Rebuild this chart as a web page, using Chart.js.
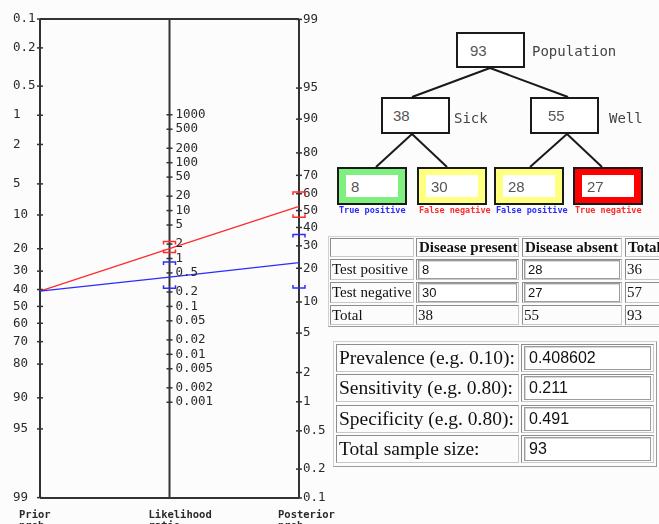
<!DOCTYPE html>
<html>
<head>
<meta charset="utf-8">
<script src="https://cdn.jsdelivr.net/npm/chart.js@4.4.1/dist/chart.umd.min.js"></script>
<style>
  html, body { margin: 0; padding: 0; }
  body { width: 659px; height: 524px; overflow: hidden; background: #fcfcfc; position: relative; }
  #nomo { position: absolute; left: 0; top: 0; width: 345px; height: 524px; }
  .abs { position: absolute; box-sizing: border-box; }
  .box { border: 2px solid #1a1a1a; background: #fff; display: flex; align-items: center;
         font: 15px "Liberation Sans", Arial, sans-serif; color: #555; }
  .leaf { border: 2px solid #1a1a1a; padding: 6px 7px; }
  .leaf > div { background: #fff; height: 100%; display: flex; align-items: center; padding-left: 5px;
                font: 15px "Liberation Sans", Arial, sans-serif; color: #555; }
  .tag { font: 14px "DejaVu Sans Mono", monospace; color: #444; line-height: 14px; }
  .cap { font: bold 8.5px "DejaVu Sans Mono", monospace; line-height: 9px; white-space: nowrap; }
  .tbl { border: 1px solid #9a9a9a; border-top-color: #d0d0d0; border-left-color: #d0d0d0; }
  .cell { border: 1px solid #c8c8c8; border-top-color: #8c8c8c; border-left-color: #8c8c8c;
          display: flex; align-items: center; padding-left: 1px; white-space: nowrap; overflow: hidden;
          font-family: "Liberation Serif", "Times New Roman", serif; color: #111; }
  .inp { border: 1px solid #9c9c9c; box-shadow: inset 1px 1px 0 #d8d8d8; background: #fff;
         display: flex; align-items: center; white-space: nowrap; overflow: hidden;
         font-family: "Liberation Sans", Arial, sans-serif; color: #111; }
</style>
</head>
<body>
<div id="nomo"><canvas id="nomogram"></canvas></div>
<svg id="links" class="abs" width="659" height="524" style="left:0;top:0"></svg>
<div id="right"></div>
<script>
// nomogram scales
const priorTicks = [0.1, 0.2, 0.5, 1, 2, 5, 10, 20, 30, 40, 50, 60, 70, 80, 90, 95, 99];
const lrTicks = [1000, 500, 200, 100, 50, 20, 10, 5, 2, 1, 0.5, 0.2, 0.1, 0.05, 0.02, 0.01, 0.005, 0.002, 0.001];
const postTicks = [99, 95, 90, 80, 70, 60, 50, 40, 30, 20, 10, 5, 2, 1, 0.5, 0.2, 0.1];

// test results (positive = blue, negative = red)
const priorPct = 40.8602;
const lrValues = [0.41, 1.61];
const postValues = [22.3, 52.6];
const lrCI = [[0.24, 0.85], [1.34, 2.27]];
const postCI = [[13.5, 36], [46, 61]];
const lineColors = ['#2b2bff', '#ff2b2b'];

// tree + tables
const population = 93;
const groupNames = ['Sick', 'Well'];
const groupTotals = [38, 55];
const cellNames = ['True positive', 'False negative', 'False positive', 'True negative'];
const cellCounts = [8, 30, 28, 27];
const rowNames = ['Test positive', 'Test negative', 'Total'];
const colNames = ['Disease present', 'Disease absent', 'Total'];
const diseasePresent = [8, 30, 38];
const diseaseAbsent = [28, 27, 55];
const rowTotals = [36, 57, 93];
const paramNames = ['Prevalence (e.g. 0.10):', 'Sensitivity (e.g. 0.80):', 'Specificity (e.g. 0.80):', 'Total sample size:'];
const paramValues = ['0.408602', '0.211', '0.491', '93'];

// ---------- nomogram ----------
const K = Math.LN10 / 2;
const logit = p => Math.log(p / (1 - p));
const priorPos = pct => -logit(pct / 100) - K;
const lrPos = lr => Math.log(lr) / 2;
const postPos = pct => logit(pct / 100) + K;
const EDGE = priorPos(0.1);
const ink = '#333';

function segment(points, color, width) {
  return { type: 'line', data: points, borderColor: color, borderWidth: width,
           pointRadius: 0, clip: false, order: 2 };
}
function tickSet(x, values, pos) {
  return { type: 'scatter', data: values.map(v => ({ x, y: pos(v) })), pointStyle: 'line',
           pointRadius: 3, borderColor: ink, borderWidth: 1.5, clip: false, order: 1 };
}

const datasets = [
  segment([{ x: 0, y: -EDGE }, { x: 0, y: EDGE }], ink, 2),
  segment([{ x: 1, y: -EDGE }, { x: 1, y: EDGE }], ink, 2),
  segment([{ x: 2, y: -EDGE }, { x: 2, y: EDGE }], ink, 2),
  segment([{ x: 0, y: EDGE }, { x: 2, y: EDGE }], ink, 2),
  segment([{ x: 0, y: -EDGE }, { x: 2, y: -EDGE }], ink, 2),
  tickSet(0, priorTicks, priorPos),
  tickSet(1, lrTicks, lrPos),
  tickSet(2, postTicks, postPos)
];
lrValues.forEach((lr, i) => {
  datasets.push(Object.assign(segment([
    { x: 0, y: priorPos(priorPct) }, { x: 1, y: lrPos(lr) }, { x: 2, y: postPos(postValues[i]) }
  ], lineColors[i], 1.3), { order: 0 }));
});

const nomogramText = {
  id: 'nomogramText',
  afterDatasetsDraw(chart) {
    const { ctx, scales: { x, y } } = chart;
    const xl = x.getPixelForValue(0), xm = x.getPixelForValue(1), xr = x.getPixelForValue(2);
    ctx.save();
    ctx.fillStyle = '#2a2a2a';
    ctx.font = '12.5px "DejaVu Sans Mono", monospace';
    ctx.textAlign = 'left';
    ctx.textBaseline = 'middle';
    priorTicks.forEach(v => ctx.fillText(String(v), xl - 27, y.getPixelForValue(priorPos(v))));
    lrTicks.forEach(v => ctx.fillText(String(v), xm + 6, y.getPixelForValue(lrPos(v))));
    postTicks.forEach(v => ctx.fillText(String(v), xr + 4, y.getPixelForValue(postPos(v))));

    ctx.font = 'bold 10.5px "DejaVu Sans Mono", monospace';
    ctx.textBaseline = 'alphabetic';
    [['Prior', 'prob.', xl], ['Likelihood', 'ratio', xm], ['Posterior', 'prob.', xr]].forEach(t => {
      ctx.fillText(t[0], t[2] - 21, 518);
      ctx.fillText(t[1], t[2] - 21, 529);
    });

    // confidence interval brackets
    const bracket = (px, py, dir, color) => {
      ctx.strokeStyle = color;
      ctx.lineWidth = 1.5;
      ctx.beginPath();
      ctx.moveTo(px - 6, py + dir * 3);
      ctx.lineTo(px - 6, py);
      ctx.lineTo(px + 6, py);
      ctx.lineTo(px + 6, py + dir * 3);
      ctx.stroke();
    };
    lrCI.forEach((ci, i) => {
      bracket(xm, y.getPixelForValue(lrPos(ci[0])), -1, lineColors[i]);
      bracket(xm, y.getPixelForValue(lrPos(ci[1])), 1, lineColors[i]);
    });
    postCI.forEach((ci, i) => {
      bracket(xr, y.getPixelForValue(postPos(ci[0])), -1, lineColors[i]);
      bracket(xr, y.getPixelForValue(postPos(ci[1])), 1, lineColors[i]);
    });
    ctx.restore();
  }
};

new Chart(document.getElementById('nomogram'), {
  type: 'scatter',
  data: { datasets },
  options: {
    responsive: true,
    maintainAspectRatio: false,
    animation: false,
    events: [],
    layout: { padding: { left: 40, right: 46, top: 19, bottom: 26 } },
    plugins: { legend: { display: false }, tooltip: { enabled: false } },
    scales: {
      x: { type: 'linear', min: 0, max: 2, display: false },
      y: { type: 'linear', min: -EDGE, max: EDGE, display: false }
    }
  },
  plugins: [nomogramText]
});

// ---------- tree ----------
const right = document.getElementById('right');
function el(cls, style, html) {
  const d = document.createElement('div');
  d.className = 'abs ' + cls;
  d.setAttribute('style', style);
  if (html !== undefined) d.innerHTML = html;
  right.appendChild(d);
  return d;
}

el('box', 'left:456px;top:32px;width:69px;height:36px;padding-left:12px', population);
el('tag', 'left:532px;top:44px', 'Population');
const groupBoxes = [[381, 10], [530, 16]];
groupTotals.forEach((n, i) => {
  el('box', `left:${groupBoxes[i][0]}px;top:97px;width:69px;height:37px;padding-left:${groupBoxes[i][1]}px`, n);
  el('tag', `left:${groupBoxes[i][0] + 73 + (i ? 6 : 0)}px;top:111px`, groupNames[i]);
});
const leafLeft = [337, 417, 494, 573];
const leafColor = ['#7ff07f', '#ffff80', '#ffff80', '#ff0000'];
const capColor = ['#2b2bff', '#ff2b2b', '#2b2bff', '#ff2b2b'];
cellCounts.forEach((n, i) => {
  el('leaf', `left:${leafLeft[i]}px;top:167px;width:70px;height:38px;background:${leafColor[i]}`, `<div>${n}</div>`);
  el('cap', `left:${leafLeft[i] + 2}px;top:206px;color:${capColor[i]}`, cellNames[i]);
});
const links = [
  [490, 68, 412, 97], [490, 68, 568, 97],
  [412, 134, 376, 167], [412, 134, 447, 167],
  [567, 134, 530, 167], [567, 134, 602, 167]
];
document.getElementById('links').innerHTML = links.map(l =>
  `<line x1="${l[0]}" y1="${l[1]}" x2="${l[2]}" y2="${l[3]}" stroke="#1a1a1a" stroke-width="2"/>`).join('');

// ---------- 2x2 table ----------
el('tbl', 'left:328px;top:236px;width:360px;height:91px;background:#fcfcfc');
const colX = [[330, 84], [416, 103], [522, 100], [625, 80]];
const rowY = [[238, 19], [259, 21], [282, 21], [305, 20]];
colNames.forEach((c, j) => {
  el('cell', `left:${colX[j + 1][0]}px;top:${rowY[0][0]}px;width:${colX[j + 1][1]}px;height:${rowY[0][1]}px;font-weight:bold;font-size:15px;padding-left:2px`, c);
});
el('cell', `left:${colX[0][0]}px;top:${rowY[0][0]}px;width:${colX[0][1]}px;height:${rowY[0][1]}px`, '');
rowNames.forEach((r, i) => {
  const [ty, h] = rowY[i + 1];
  el('cell', `left:${colX[0][0]}px;top:${ty}px;width:${colX[0][1]}px;height:${h}px;font-size:15px`, r);
  [diseasePresent[i], diseaseAbsent[i], rowTotals[i]].forEach((v, j) => {
    const [cx, w] = colX[j + 1];
    el('cell', `left:${cx}px;top:${ty}px;width:${w}px;height:${h}px;font-size:15px;padding-left:1px`, i < 2 && j < 2 ? '' : v);
    if (i < 2 && j < 2) {
      el('inp', `left:${cx + 2}px;top:${ty + 1}px;width:${w - 4}px;height:${h - 2}px;font-size:13px;padding-left:3px`, v);
    }
  });
});

// ---------- parameters table ----------
el('tbl', 'left:333px;top:341px;width:324px;height:126px');
const pRowY = [344, 374, 405, 435];
paramNames.forEach((p, i) => {
  el('cell', `left:336px;top:${pRowY[i]}px;width:183px;height:28px;font-size:19.5px;padding-left:2px`, p);
  el('cell', `left:521px;top:${pRowY[i]}px;width:133px;height:28px`, '');
  el('inp', `left:524px;top:${pRowY[i] + 2}px;width:127px;height:24px;font-size:16px;padding-left:4px`, paramValues[i]);
});
</script>
</body>
</html>
